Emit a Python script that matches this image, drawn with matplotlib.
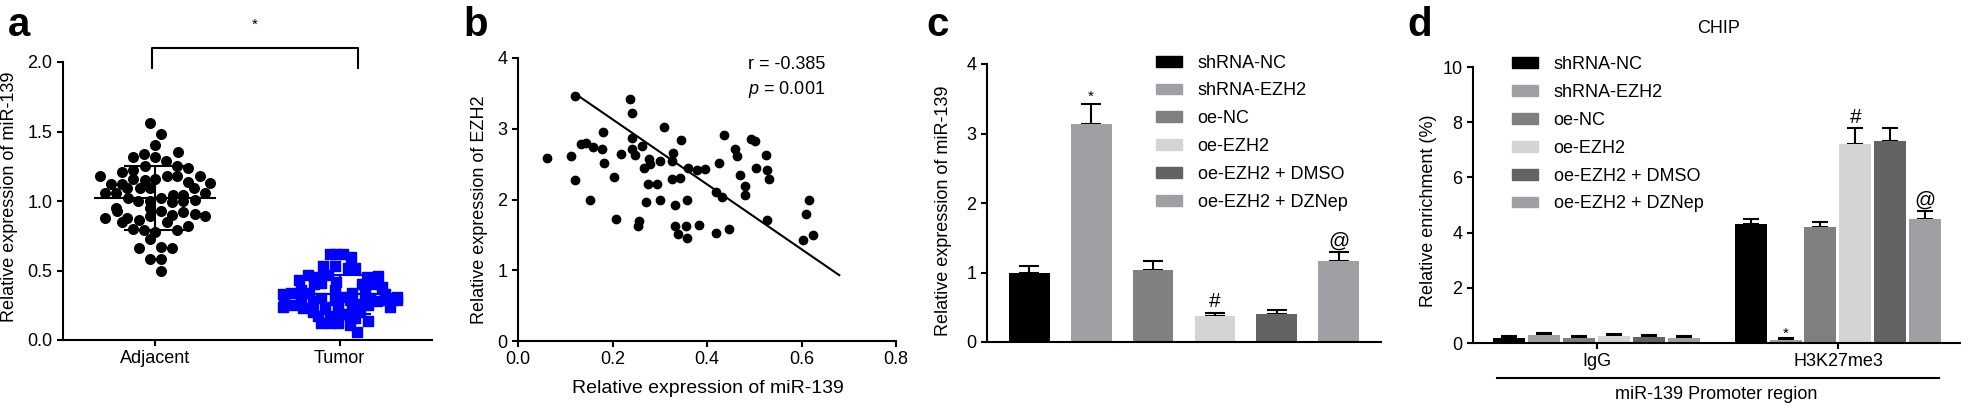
import numpy as np
import matplotlib
matplotlib.use('Agg')
import matplotlib.pyplot as plt
from matplotlib.patches import Patch
from matplotlib.transforms import blended_transform_factory

plt.rcParams.update({'font.family': ['Liberation Sans', 'DejaVu Sans'], 'font.size': 13,
                     'mathtext.fontset': 'custom', 'mathtext.it': 'Liberation Sans:italic',
                     'mathtext.rm': 'Liberation Sans',
                     'axes.linewidth': 1.5, 'xtick.major.width': 1.5, 'ytick.major.width': 1.5,
                     'xtick.major.size': 4, 'ytick.major.size': 4, 'xtick.labelsize': 13,
                     'ytick.labelsize': 13})

# ---- panel a: miR-139 in adjacent vs tumor tissue
adj_dx = [-0.031, 0.031, 0.0, 0.122, -0.120, -0.060, 0.0, 0.056, -0.057, -0.120, -0.180, 0.180,
          0.117, -0.302, 0.240, -0.242, -0.182, -0.120, -0.056, 0.0, 0.062, 0.120, 0.180, 0.299,
          -0.151, -0.084, -0.029, 0.211, -0.270, -0.211, 0.271, -0.148, -0.093, 0.031, 0.095,
          0.153, 0.213, -0.029, 0.089, 0.153, -0.211, -0.208, -0.029, 0.031, 0.153, 0.213,
          -0.270, -0.151, -0.178, -0.087, -0.029, 0.091, 0.062, 0.271, 0.180, -0.120, -0.060,
          0.0, 0.120, -0.029, -0.089, 0.031, 0.091, -0.029, 0.031, 0.031]
adj_y = [1.56, 1.48, 1.40, 1.35, 1.32, 1.34, 1.32, 1.29, 1.25, 1.22, 1.21, 1.24,
         1.25, 1.18, 1.18, 1.12, 1.12, 1.16, 1.15, 1.16, 1.18, 1.18, 1.14, 1.13,
         1.09, 1.09, 1.09, 1.09, 1.06, 1.06, 1.06, 1.02, 1.00, 1.02, 1.04,
         1.04, 1.01, 1.00, 0.99, 1.00, 0.95, 0.93, 0.95, 0.93, 0.92, 0.91,
         0.88, 0.88, 0.85, 0.86, 0.89, 0.90, 0.85, 0.89, 0.82, 0.80, 0.79,
         0.78, 0.79, 0.73, 0.66, 0.67, 0.66, 0.58, 0.58, 0.50]
tum_dx = [-0.055, -0.018, 0.018, 0.060, -0.091, -0.027, 0.046, 0.082, 0.210, 0.146, -0.173,
          -0.219, -0.118, -0.064, -0.018, 0.228, 0.182, 0.118, -0.137, -0.100, -0.027, -0.264,
          -0.310, -0.210, -0.164, 0.064, 0.137, 0.246, 0.310, 0.264, 0.310, 0.009, -0.027,
          0.055, 0.164, 0.200, -0.100, -0.146, -0.210, -0.300, -0.310, -0.246, 0.273, 0.155,
          -0.082, -0.009, 0.064, 0.109, -0.200, -0.146, -0.009, 0.036, 0.109, -0.118, -0.055,
          0.055, 0.082, 0.155, -0.100, -0.055, -0.009, 0.055, 0.096]
tum_y = [0.62, 0.62, 0.62, 0.60, 0.53, 0.53, 0.52, 0.52, 0.46, 0.45, 0.47,
         0.43, 0.45, 0.47, 0.42, 0.38, 0.40, 0.40, 0.40, 0.41, 0.36, 0.34,
         0.33, 0.36, 0.34, 0.34, 0.34, 0.33, 0.31, 0.29, 0.29, 0.31, 0.29,
         0.29, 0.30, 0.28, 0.30, 0.28, 0.28, 0.28, 0.24, 0.25, 0.24, 0.25,
         0.24, 0.245, 0.24, 0.26, 0.23, 0.20, 0.20, 0.19, 0.20, 0.17, 0.17,
         0.17, 0.16, 0.14, 0.125, 0.12, 0.125, 0.11, 0.06]
groups_a = ['Adjacent', 'Tumor']
mean_a = [1.02, 0.33]
sd_a = [0.23, 0.14]

# ---- panel b: correlation
mir_x = [0.061, 0.113, 0.120, 0.121, 0.134, 0.143, 0.152, 0.159, 0.178, 0.180, 0.182, 0.203,
         0.208, 0.218, 0.237, 0.242, 0.242, 0.242, 0.247, 0.253, 0.257, 0.263, 0.266, 0.270,
         0.275, 0.278, 0.279, 0.295, 0.300, 0.301, 0.310, 0.325, 0.325, 0.329, 0.333, 0.332,
         0.338, 0.342, 0.345, 0.355, 0.357, 0.358, 0.360, 0.378, 0.383, 0.395, 0.418, 0.420,
         0.425, 0.432, 0.436, 0.447, 0.460, 0.463, 0.470, 0.480, 0.480, 0.494, 0.502, 0.503,
         0.525, 0.526, 0.528, 0.532, 0.604, 0.609, 0.615, 0.625]
ezh2_y = [2.58, 2.62, 2.28, 3.46, 2.79, 2.80, 2.00, 2.74, 2.72, 2.95, 2.51, 2.32,
          1.72, 2.64, 3.42, 3.22, 2.87, 2.72, 2.63, 1.62, 1.69, 2.75, 2.44, 1.97,
          2.22, 2.57, 2.50, 2.22, 2.55, 2.00, 3.02, 2.54, 2.29, 2.66, 1.92, 1.63,
          1.51, 2.31, 2.84, 1.62, 2.00, 1.46, 2.44, 2.42, 1.64, 2.43, 1.53, 2.10,
          2.52, 2.04, 2.91, 1.59, 2.72, 2.62, 2.35, 2.19, 2.07, 2.85, 2.83, 2.44,
          2.63, 2.41, 1.71, 2.29, 1.43, 1.80, 2.00, 1.50]
fit_x = [0.12, 0.68]
fit_y = [3.50, 0.93]

# ---- panels c, d
conditions = ['shRNA-NC', 'shRNA-EZH2', 'oe-NC', 'oe-EZH2', 'oe-EZH2 + DMSO', 'oe-EZH2 + DZNep']
colors = ['#000000', '#A0A0A4', '#808080', '#D4D4D4', '#636363', '#A0A0A4']
mir139 = [1.00, 3.14, 1.03, 0.37, 0.40, 1.17]
mir139_err = [0.10, 0.29, 0.13, 0.05, 0.06, 0.12]
marks_c = ['', '*', '', '#', '', '@']
chip_groups = ['IgG', 'H3K27me3']
chip_igg = [0.19, 0.28, 0.19, 0.24, 0.22, 0.19]
chip_igg_err = [0.06, 0.08, 0.05, 0.09, 0.07, 0.06]
chip_h3 = [4.30, 0.12, 4.20, 7.22, 7.32, 4.50]
chip_h3_err = [0.20, 0.06, 0.18, 0.57, 0.48, 0.27]
marks_d = ['', '*', '', '#', '', '@']

W, H = 1961, 407
fig = plt.figure(figsize=(W / 100, H / 100), dpi=100)


def rect(l, t, r, b):
    return [l / W, (H - b) / H, (r - l) / W, (b - t) / H]


def clean(ax):
    ax.spines['top'].set_visible(False)
    ax.spines['right'].set_visible(False)
    ax.tick_params(direction='out', colors='black')


# a
ax = fig.add_axes(rect(63, 62, 432, 340))
clean(ax)
ax.scatter(np.array(adj_dx), adj_y, s=48, color='black', zorder=3, clip_on=False)
ax.scatter(1 + np.array(tum_dx), tum_y, s=50, marker='s', color='#0000FF', zorder=3, clip_on=False)
for i, c in enumerate(['black', '#0000FF']):
    ax.hlines(mean_a[i], i - 0.33, i + 0.33, color=c, lw=1.5, zorder=4)
    ax.errorbar(i, mean_a[i], yerr=sd_a[i], color=c, lw=1.5, capsize=22, capthick=1.5, zorder=4)
ax.set_xlim(-0.5, 1.5)
ax.set_ylim(0, 2)
ax.set_yticks([0, 0.5, 1.0, 1.5, 2.0])
ax.set_yticklabels(['0.0', '0.5', '1.0', '1.5', '2.0'])
ax.set_xticks([0, 1])
ax.set_xticklabels(groups_a)
ax.set_ylabel('Relative expression of miR-139')
ax.yaxis.set_label_coords(-0.122, 0.514)
ax.plot([-0.02, -0.02, 1.1, 1.1], [1.96, 2.10, 2.10, 1.96], color='black', lw=1.5, clip_on=False)
ax.text(0.54, 2.27, '*', ha='center', va='center', fontsize=11)

# b
ax = fig.add_axes(rect(518, 58, 896, 341))
clean(ax)
ax.scatter(mir_x, ezh2_y, s=36, color='black', zorder=3, clip_on=False)
ax.plot(fit_x, fit_y, color='black', lw=1.5)
ax.set_xlim(0, 0.8)
ax.set_ylim(0, 4)
ax.set_xticks([0, 0.2, 0.4, 0.6, 0.8])
ax.set_xticklabels(['0.0', '0.2', '0.4', '0.6', '0.8'])
ax.set_yticks([0, 1, 2, 3, 4])
ax.set_xlabel('Relative expression of miR-139', fontsize=14)
ax.xaxis.set_label_coords(0.503, -0.138)
ax.set_ylabel('Relative expression of EZH2')
ax.yaxis.set_label_coords(-0.079, 0.463)
ax.text(0.487, 3.91, 'r = -0.385', ha='left', va='center')
ax.text(0.487, 3.56, r'$p$ = 0.001', ha='left', va='center')

# c
ax = fig.add_axes(rect(987, 64, 1381, 342))
clean(ax)
xc = np.arange(len(conditions))
ax.bar(xc, mir139, width=0.66, color=colors, zorder=2)
ax.errorbar(xc, mir139, yerr=[np.zeros(len(xc)), mir139_err], fmt='none', ecolor='black',
            elinewidth=1.5, capsize=7, capthick=1.5, zorder=1)
for i, m in enumerate(marks_c):
    if m:
        top = mir139[i] + mir139_err[i]
        fs = 11 if m == '*' else 15
        ax.text(xc[i], top + (0.02 if m != '*' else 0.0), m, ha='center', va='bottom', fontsize=fs)
ax.set_xlim(-0.68, 5.68)
ax.set_ylim(0, 4)
ax.set_yticks([0, 1, 2, 3, 4])
ax.set_xticks([])
ax.set_ylabel('Relative expression of miR-139')
ax.yaxis.set_label_coords(-0.089, 0.471)
handles = [Patch(color=c) for c in colors]
ax.legend(handles, conditions, loc='upper left', bbox_to_anchor=(0.429, 1.034), frameon=False,
          borderpad=0, borderaxespad=0, handlelength=1.45, handleheight=0.55,
          handletextpad=0.85, labelspacing=0.6, fontsize=13)

# d
ax = fig.add_axes(rect(1473, 67, 1961, 343))
clean(ax)
step, bw = 0.145, 0.1326
for g, (vals, errs) in enumerate([(chip_igg, chip_igg_err), (chip_h3, chip_h3_err)]):
    xs = g + (np.arange(len(conditions)) - 2.5) * step
    ax.bar(xs, vals, width=bw, color=colors, zorder=2)
    ax.errorbar(xs, vals, yerr=[np.zeros(len(xs)), errs], fmt='none', ecolor='black',
                elinewidth=1.5, capsize=5.5, capthick=1.5, zorder=1)
    if g == 1:
        for i, m in enumerate(marks_d):
            if m:
                fs = 11 if m == '*' else 15
                ax.text(xs[i], vals[i] + errs[i] + (0.05 if m != '*' else -0.1), m,
                        ha='center', va='bottom', fontsize=fs)
ax.set_xlim(-0.513, 1.51)
ax.set_ylim(0, 10)
ax.set_yticks([0, 2, 4, 6, 8, 10])
ax.set_xticks([0, 1])
ax.set_xticklabels(chip_groups)
ax.set_ylabel('Relative enrichment (%)')
ax.yaxis.set_label_coords(-0.074, 0.478)
ax.text(0.504, 1.138, 'CHIP', transform=ax.transAxes, ha='center', va='center')
tr = blended_transform_factory(ax.transData, ax.transAxes)
ax.plot([-0.413, 1.419], [-0.127, -0.127], color='black', lw=1.5, transform=tr, clip_on=False)
ax.text(0.494, -0.188, 'miR-139 Promoter region', transform=tr, ha='center', va='center')
ax.legend(handles, conditions, loc='upper left', bbox_to_anchor=(0.080, 1.039), frameon=False,
          borderpad=0, borderaxespad=0, handlelength=1.45, handleheight=0.55,
          handletextpad=0.85, labelspacing=0.6, fontsize=13)

# panel letters
for x, lab in [(8, 'a'), (463, 'b'), (926, 'c'), (1407, 'd')]:
    fig.text(x / W, (H - 36) / H, lab, fontsize=29, fontweight='bold', ha='left', va='baseline')

fig.savefig('out.png', dpi=100)
